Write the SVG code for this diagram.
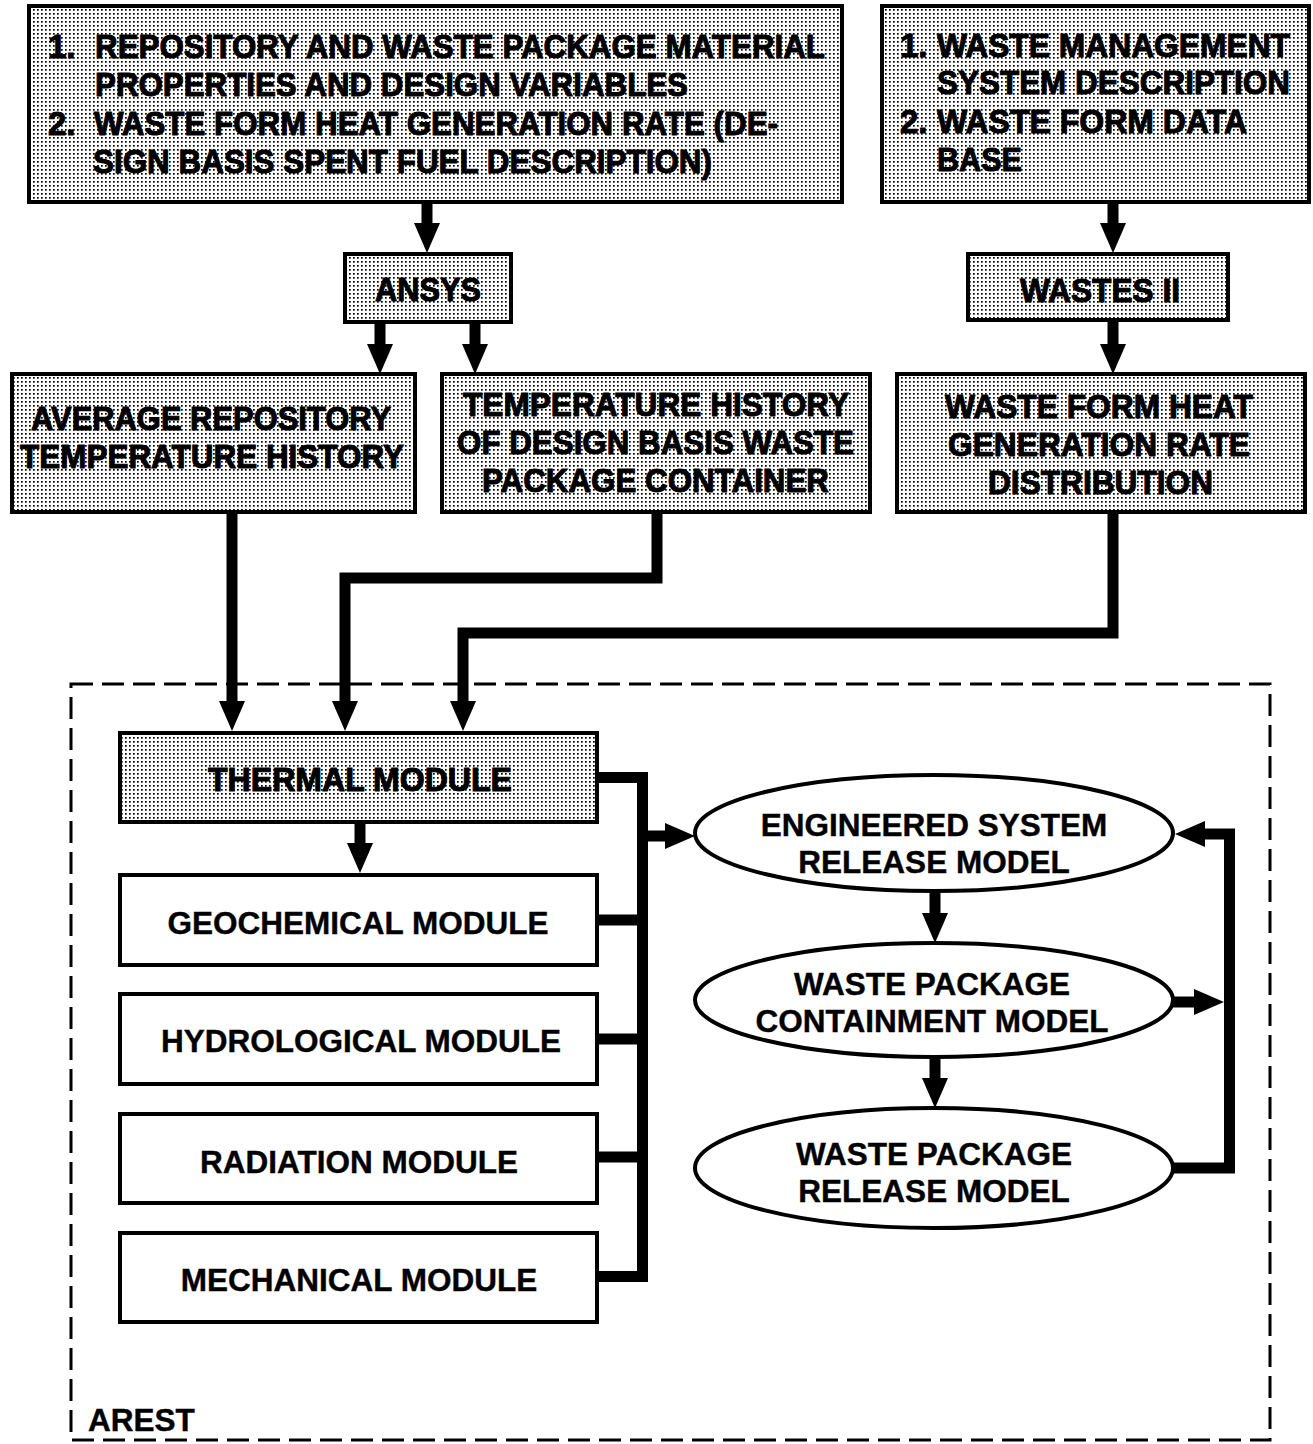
<svg xmlns="http://www.w3.org/2000/svg" width="1313" height="1444" viewBox="0 0 1313 1444">
  <defs>
    <!-- halftone dot screen used for the shaded input/output boxes -->
    <pattern id="dots" width="4" height="4" patternUnits="userSpaceOnUse">
      <rect width="4" height="4" fill="#ffffff"/>
      <rect x="1" y="1" width="1.7" height="1.7" fill="#000000"/>
    </pattern>
    <marker id="head" markerUnits="userSpaceOnUse" viewBox="0 0 30 26" refX="0" refY="13" markerWidth="30" markerHeight="26" orient="auto">
      <path d="M0,0 L30,13 L0,26 Z" fill="#000"/>
    </marker>
  </defs>
  <style>
    .shaded { fill: url(#dots); stroke: #000; stroke-width: 4; }
    .plain { fill: #fff; stroke: #000; stroke-width: 4; }
    .oval { fill: #fff; stroke: #000; stroke-width: 4; }
    .heavy { font-family: "Liberation Sans", Arial, Helvetica, sans-serif; font-weight: bold; font-size: 33px; fill: #000; stroke: #000; stroke-width: 1px; }
    .lbl { font-family: "Liberation Sans", Arial, Helvetica, sans-serif; font-weight: bold; font-size: 31.5px; fill: #000; text-anchor: middle; stroke: #000; stroke-width: 0.4px; }
    .wire { fill: none; stroke: #000; stroke-width: 11; stroke-linejoin: miter; stroke-linecap: butt; }
    .arrow { fill: none; stroke: #000; stroke-width: 11; stroke-linejoin: miter; stroke-linecap: butt; marker-end: url(#head); }
  </style>
  <rect width="1313" height="1444" fill="#ffffff"/>

  <!-- AREST boundary -->
  <g id="arest">
    <rect x="71" y="684" width="1199" height="756" fill="none" stroke="#000" stroke-width="3" stroke-dasharray="22 9"/>
    <text x="88" y="1431" class="lbl" style="text-anchor:start">AREST</text>
  </g>

  <g id="connectors">
    <path class="arrow" d="M427,202 V223"/>
    <path class="arrow" d="M380,322 V344"/>
    <path class="arrow" d="M475,322 V344"/>
    <path class="arrow" d="M1113,202 V223"/>
    <path class="arrow" d="M1113,320 V344"/>
    <path class="arrow" d="M232,512 V701"/>
    <path class="arrow" d="M657,512 V578 H345 V701"/>
    <path class="arrow" d="M1113,512 V633 H463 V701"/>
    <path class="arrow" d="M360,823 V843"/>
    <!-- module bus -->
    <path class="wire" d="M597,777.5 H642.5 V1276.5 H597"/>
    <path class="wire" d="M597,920 H642"/>
    <path class="wire" d="M597,1039 H642"/>
    <path class="wire" d="M597,1157 H642"/>
    <path class="arrow" d="M642,836 H665"/>
    <!-- model chain -->
    <path class="arrow" d="M935,889 V913"/>
    <path class="arrow" d="M935,1055 V1078"/>
    <path class="arrow" d="M1172,1168 H1229.5 V834 H1205"/>
    <path class="arrow" d="M1172,1002 H1194"/>
  </g>

  <g id="design-inputs">
    <rect class="shaded" x="29" y="6" width="813" height="196"/>
    <text class="heavy" x="48" y="58">1.</text>
    <text class="heavy" x="95" y="58" textLength="730" lengthAdjust="spacingAndGlyphs">REPOSITORY AND WASTE PACKAGE MATERIAL</text>
    <text class="heavy" x="95" y="96" textLength="593" lengthAdjust="spacingAndGlyphs">PROPERTIES AND DESIGN VARIABLES</text>
    <text class="heavy" x="48" y="135">2.</text>
    <text class="heavy" x="94" y="135" textLength="684" lengthAdjust="spacingAndGlyphs">WASTE FORM HEAT GENERATION RATE (DE-</text>
    <text class="heavy" x="93" y="173" textLength="619" lengthAdjust="spacingAndGlyphs">SIGN BASIS SPENT FUEL DESCRIPTION)</text>
  </g>

  <g id="waste-inputs">
    <rect class="shaded" x="882" y="6" width="427" height="196"/>
    <text class="heavy" x="900" y="57">1.</text>
    <text class="heavy" x="937" y="57" textLength="353" lengthAdjust="spacingAndGlyphs">WASTE MANAGEMENT</text>
    <text class="heavy" x="937" y="94" textLength="353" lengthAdjust="spacingAndGlyphs">SYSTEM DESCRIPTION</text>
    <text class="heavy" x="900" y="133">2.</text>
    <text class="heavy" x="937" y="133" textLength="310" lengthAdjust="spacingAndGlyphs">WASTE FORM DATA</text>
    <text class="heavy" x="937" y="171" textLength="85" lengthAdjust="spacingAndGlyphs">BASE</text>
  </g>

  <g id="ansys">
    <rect class="shaded" x="345" y="254" width="166" height="68"/>
    <text class="heavy" x="375" y="301" textLength="106" lengthAdjust="spacingAndGlyphs">ANSYS</text>
  </g>

  <g id="wastes-ii">
    <rect class="shaded" x="968" y="254" width="260" height="66"/>
    <text class="heavy" x="1020" y="302" textLength="160" lengthAdjust="spacingAndGlyphs">WASTES II</text>
  </g>

  <g id="avg-temp">
    <rect class="shaded" x="12" y="374" width="403" height="138"/>
    <text class="heavy" x="31" y="430" textLength="360" lengthAdjust="spacingAndGlyphs">AVERAGE REPOSITORY</text>
    <text class="heavy" x="20" y="468" textLength="384" lengthAdjust="spacingAndGlyphs">TEMPERATURE HISTORY</text>
  </g>

  <g id="container-temp">
    <rect class="shaded" x="442" y="374" width="428" height="138"/>
    <text class="heavy" x="463" y="416" textLength="386" lengthAdjust="spacingAndGlyphs">TEMPERATURE HISTORY</text>
    <text class="heavy" x="457" y="454" textLength="397" lengthAdjust="spacingAndGlyphs">OF DESIGN BASIS WASTE</text>
    <text class="heavy" x="482" y="492" textLength="347" lengthAdjust="spacingAndGlyphs">PACKAGE CONTAINER</text>
  </g>

  <g id="heat-distribution">
    <rect class="shaded" x="897" y="374" width="408" height="138"/>
    <text class="heavy" x="945" y="418" textLength="308" lengthAdjust="spacingAndGlyphs">WASTE FORM HEAT</text>
    <text class="heavy" x="948" y="456" textLength="302" lengthAdjust="spacingAndGlyphs">GENERATION RATE</text>
    <text class="heavy" x="988" y="494" textLength="225" lengthAdjust="spacingAndGlyphs">DISTRIBUTION</text>
  </g>

  <g id="thermal-module">
    <rect class="shaded" x="120" y="733" width="477" height="89"/>
    <text class="heavy" x="208" y="791" textLength="304" lengthAdjust="spacingAndGlyphs">THERMAL MODULE</text>
  </g>

  <g id="geochemical-module">
    <rect class="plain" x="120" y="875" width="477" height="90"/>
    <text class="lbl" x="358" y="934">GEOCHEMICAL MODULE</text>
  </g>

  <g id="hydrological-module">
    <rect class="plain" x="120" y="994" width="477" height="90"/>
    <text class="lbl" x="361" y="1052">HYDROLOGICAL MODULE</text>
  </g>

  <g id="radiation-module">
    <rect class="plain" x="120" y="1114" width="477" height="89"/>
    <text class="lbl" x="359" y="1173">RADIATION MODULE</text>
  </g>

  <g id="mechanical-module">
    <rect class="plain" x="120" y="1233" width="477" height="89"/>
    <text class="lbl" x="359" y="1291">MECHANICAL MODULE</text>
  </g>

  <g id="engineered-system">
    <ellipse class="oval" cx="934" cy="833" rx="239" ry="58"/>
    <text class="lbl" x="934" y="836">ENGINEERED SYSTEM</text>
    <text class="lbl" x="934" y="873">RELEASE MODEL</text>
  </g>

  <g id="containment">
    <ellipse class="oval" cx="934" cy="1000" rx="239" ry="57"/>
    <text class="lbl" x="932" y="995">WASTE PACKAGE</text>
    <text class="lbl" x="932" y="1032">CONTAINMENT MODEL</text>
  </g>

  <g id="package-release">
    <ellipse class="oval" cx="934" cy="1168" rx="239" ry="60"/>
    <text class="lbl" x="934" y="1165">WASTE PACKAGE</text>
    <text class="lbl" x="934" y="1202">RELEASE MODEL</text>
  </g>
</svg>
